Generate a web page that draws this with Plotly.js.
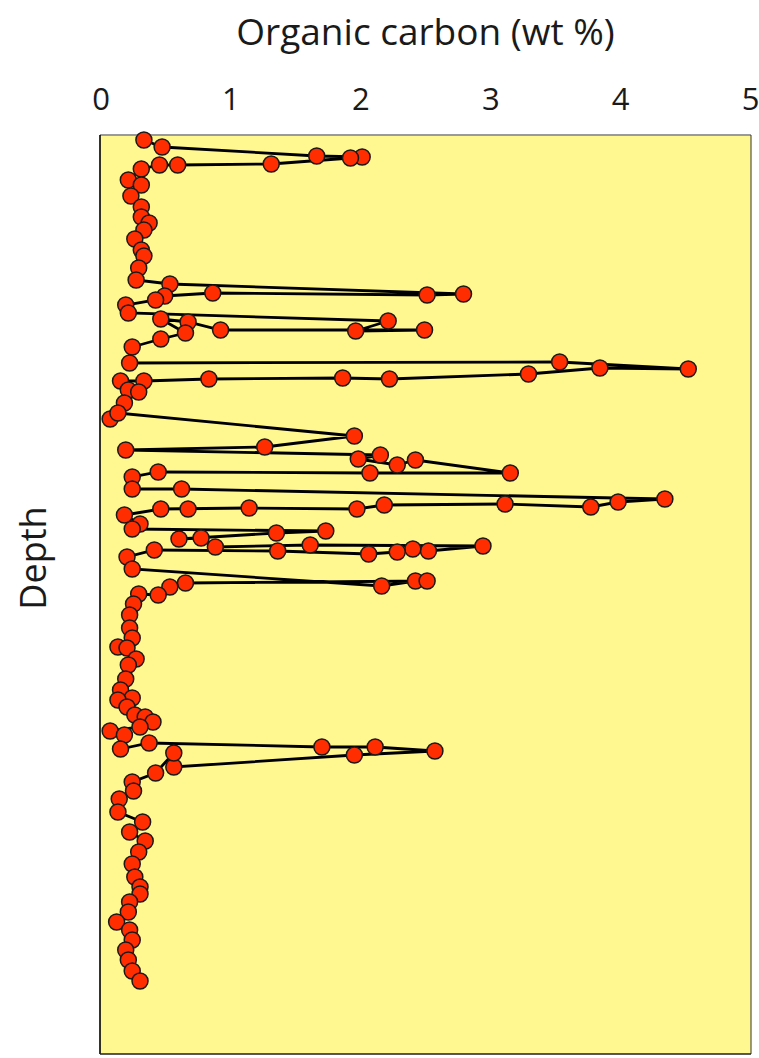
<!DOCTYPE html>
<html>
<head>
<meta charset="utf-8">
<script src="https://cdn.plot.ly/plotly-3.0.1.min.js"></script>
<style>
  html, body { margin: 0; padding: 0; background: #ffffff; }
  #chart { width: 759px; height: 1058px; }
</style>
</head>
<body>
<div id="chart"></div>
<script>
// Organic carbon profile down the section, samples in core order
const organicCarbon = [
  0.33, 0.47, 1.66, 2.01, 1.92, 1.31, 0.59, 0.45, 0.31, 0.21,
  0.31, 0.23, 0.31, 0.31, 0.37, 0.33, 0.26, 0.31, 0.33, 0.29,
  0.27, 0.53, 2.79, 2.51, 0.86, 0.49, 0.42, 0.19, 0.21, 2.21,
  1.96, 2.49, 0.92, 0.67, 0.46, 0.65, 0.46, 0.24, 0.22, 3.53,
  4.52, 3.84, 3.29, 2.22, 1.86, 0.83, 0.33, 0.15, 0.21, 0.29,
  0.18, 0.07, 0.13, 1.95, 1.26, 0.19, 2.15, 1.98, 2.28, 2.42,
  3.15, 2.07, 0.44, 0.24, 0.24, 0.62, 4.34, 3.98, 3.77, 3.11,
  2.18, 1.97, 1.14, 0.67, 0.46, 0.18, 0.30, 0.24, 1.73, 1.35,
  0.60, 0.77, 0.88, 1.61, 2.94, 2.52, 2.40, 2.28, 2.06, 1.36,
  0.41, 0.20, 0.24, 2.16, 2.42, 2.51, 0.65, 0.53, 0.44, 0.29,
  0.25, 0.22, 0.22, 0.24, 0.13, 0.20, 0.27, 0.21, 0.19, 0.15,
  0.24, 0.13, 0.20, 0.26, 0.34, 0.40, 0.30, 0.07, 0.18, 0.15,
  0.37, 1.70, 2.11, 2.57, 1.95, 0.56, 0.56, 0.42, 0.24, 0.25,
  0.14, 0.13, 0.32, 0.22, 0.34, 0.29, 0.24, 0.26, 0.30, 0.30,
  0.22, 0.21, 0.12, 0.22, 0.24, 0.19, 0.21, 0.24, 0.30
];

// Sample depth below the top of the section
const depth = [
    5,  12,  21,  22,  23,  29,  30,  30,  34,  45,
   50,  61,  72,  82,  88,  95, 104, 115, 121, 133,
  145, 149, 159, 160, 158, 161, 165, 170, 178, 186,
  196, 195, 195, 187, 184, 198, 204, 212, 228, 227,
  234, 233, 239, 244, 243, 244, 246, 246, 255, 257,
  268, 284, 278, 301, 312, 315, 320, 324, 330, 325,
  338, 338, 337, 342, 354, 354, 364, 367, 372, 369,
  370, 374, 373, 374, 374, 380, 389, 394, 396, 398,
  404, 403, 412, 410, 411, 416, 414, 417, 419, 416,
  415, 422, 434, 451, 446, 446, 448, 452, 460, 459,
  469, 480, 493, 503, 512, 513, 524, 530, 544, 555,
  563, 565, 572, 580, 582, 587, 592, 596, 600, 614,
  608, 612, 612, 616, 620, 632, 618, 638, 647, 656,
  664, 677, 687, 697, 706, 717, 729, 742, 752, 759,
  767, 777, 787, 795, 805, 815, 825, 836, 846
];

const carbonTicks = [0, 1, 2, 3, 4, 5];
const carbonTickLabels = ['0', '1', '2', '3', '4', '5'];
const carbonLabel = 'Organic carbon (wt %)';
const depthLabel = 'Depth';
const depthBottom = 919;

const FONT = '"Open Sans", "Noto Sans", "DejaVu Sans", sans-serif';

const trace = {
  type: 'scatter',
  mode: 'lines+markers',
  x: organicCarbon,
  y: depth,
  cliponaxis: false,
  line: { color: '#000000', width: 2.8 },
  marker: {
    size: 16,
    color: '#ff2d00',
    line: { color: '#1a1a1a', width: 1.5 }
  },
  hoverinfo: 'x+y',
  showlegend: false
};

const layout = {
  width: 759,
  height: 1058,
  margin: { l: 100, r: 8, t: 135, b: 4 },
  paper_bgcolor: '#ffffff',
  plot_bgcolor: '#fff78f',
  font: { family: FONT, color: '#1a1a1a' },
  xaxis: {
    side: 'top',
    range: [-0.008, 5.003],
    tickvals: carbonTicks,
    ticktext: carbonTickLabels,
    ticks: '',
    ticklabelstandoff: 18,
    ticklabeloverflow: 'allow',
    tickfont: { family: FONT, size: 31, color: '#1a1a1a' },
    showgrid: false,
    zeroline: false,
    showline: false,
    title: {
      text: carbonLabel,
      font: { family: FONT, size: 37, color: '#1a1a1a' },
      standoff: 19
    }
  },
  yaxis: {
    range: [depthBottom, 0],
    showticklabels: false,
    ticks: '',
    showgrid: false,
    zeroline: false,
    showline: false
  },
  annotations: [{
    text: depthLabel,
    xref: 'paper', yref: 'paper',
    x: -0.103, y: 0.54,
    xanchor: 'center', yanchor: 'middle',
    textangle: -90,
    showarrow: false,
    font: { family: FONT, size: 36, color: '#1a1a1a' }
  }],
  shapes: [
    // plot frame
    { type: 'line', xref: 'paper', yref: 'paper', x0: 0, x1: 0, y0: 0, y1: 1,
      line: { color: '#000000', width: 1.6 }, layer: 'above' },
    { type: 'line', xref: 'paper', yref: 'paper', x0: 1, x1: 1, y0: 0, y1: 1,
      line: { color: '#333333', width: 1 }, layer: 'above' },
    { type: 'line', xref: 'paper', yref: 'paper', x0: 0, x1: 1, y0: 0, y1: 0,
      line: { color: '#222222', width: 1.6 }, layer: 'above' },
    { type: 'line', xref: 'paper', yref: 'paper', x0: 0, x1: 1, y0: 1, y1: 1,
      line: { color: '#9a9a9a', width: 2 }, layer: 'below' }
  ]
};

Plotly.newPlot('chart', [trace], layout, { staticPlot: true, displayModeBar: false });
</script>
</body>
</html>
